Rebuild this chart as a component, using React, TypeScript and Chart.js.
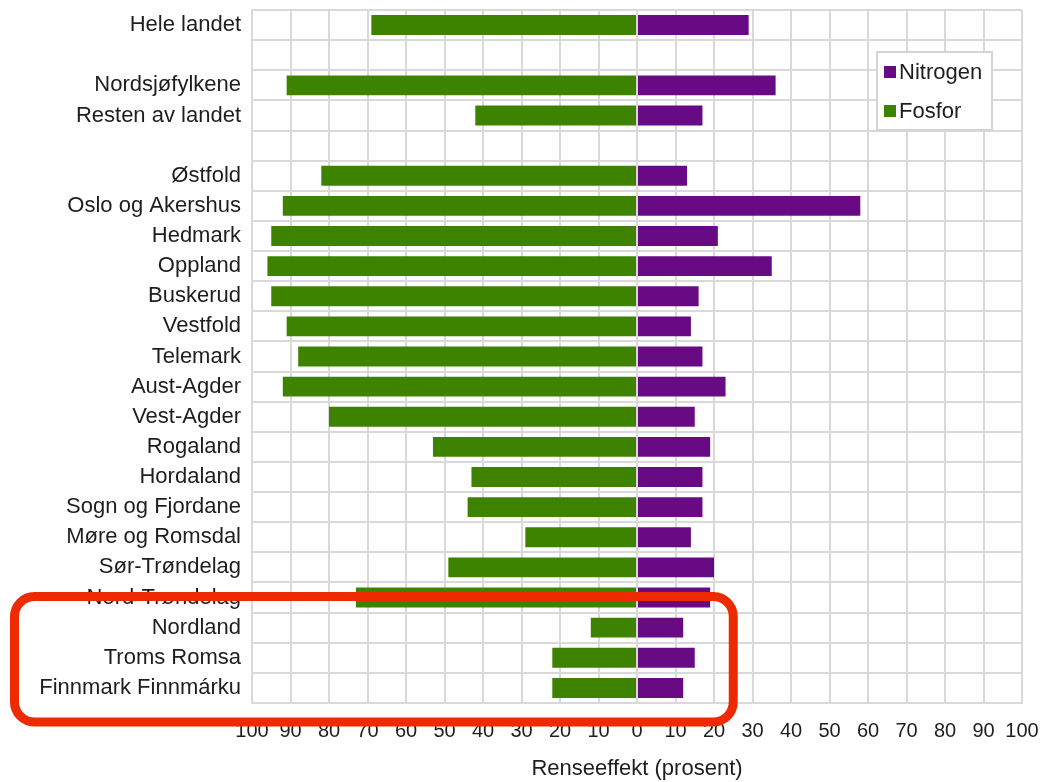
import React, { useEffect, useRef } from "react";
import { Chart, registerables } from "chart.js";

Chart.register(...registerables);

// Rows from top to bottom; empty strings are spacer rows.
const categories: string[] = [
  "Hele landet",
  "",
  "Nordsjøfylkene",
  "Resten av landet",
  "",
  "Østfold",
  "Oslo og Akershus",
  "Hedmark",
  "Oppland",
  "Buskerud",
  "Vestfold",
  "Telemark",
  "Aust-Agder",
  "Vest-Agder",
  "Rogaland",
  "Hordaland",
  "Sogn og Fjordane",
  "Møre og Romsdal",
  "Sør-Trøndelag",
  "Nord-Trøndelag",
  "Nordland",
  "Troms Romsa",
  "Finnmark Finnmárku",
];

// Nitrogen removal (%), drawn to the right of zero.
const nitrogen: (number | null)[] = [
  29, null, 36, 17, null, 13, 58, 21, 35, 16, 14, 17, 23, 15, 19, 17, 17, 14, 20, 19, 12, 15, 12,
];

// Phosphorus removal (%), drawn to the left of zero.
const fosfor: (number | null)[] = [
  69, null, 91, 42, null, 82, 92, 95, 96, 95, 91, 88, 92, 80, 53, 43, 44, 29, 49, 73, 12, 22, 22,
];

// Axis ticks from -100 to 100, labelled by magnitude.
const tickValues: number[] = [
  -100, -90, -80, -70, -60, -50, -40, -30, -20, -10, 0, 10, 20, 30, 40, 50, 60, 70, 80, 90, 100,
];

const seriesNames = ["Nitrogen", "Fosfor"];
const seriesColors = ["#680a84", "#3e8300"];
const axisTitle = "Renseeffekt (prosent)";

const FONT = "'Liberation Sans', Arial, sans-serif";
const TEXT = "#1e1e1e";
const GRID = "#d9d9d9";

// Legend box sitting inside the plot area, near the top right.
const insideLegend = {
  id: "insideLegend",
  afterDraw(chart: any) {
    const { ctx, chartArea } = chart;
    const w = 115;
    const h = 78;
    const x = chartArea.right - 30 - w;
    const y = chartArea.top + 42;
    ctx.save();
    ctx.fillStyle = "#ffffff";
    ctx.fillRect(x, y, w, h);
    ctx.strokeStyle = "#d4d4d4";
    ctx.lineWidth = 2;
    ctx.strokeRect(x, y, w, h);
    ctx.font = `22px ${FONT}`;
    ctx.textBaseline = "middle";
    ctx.textAlign = "left";
    chart.data.datasets.forEach((ds: any, i: number) => {
      const cy = y + 20 + i * 39;
      ctx.fillStyle = ds.backgroundColor;
      ctx.fillRect(x + 7, cy - 6, 12, 12);
      ctx.fillStyle = TEXT;
      ctx.fillText(ds.label, x + 22, cy + 1);
    });
    ctx.restore();
  },
};

// Rounded red frame highlighting the northern counties.
const highlightFrame = {
  id: "highlightFrame",
  afterDraw(chart: any) {
    const { ctx, chartArea, scales } = chart;
    const yScale = scales.y;
    const xScale = scales.x;
    const top = yScale.getPixelForValue(categories.indexOf("Nord-Trøndelag")) - 1;
    const bottom = chartArea.bottom + 19;
    const left = 14.5;
    const right = xScale.getPixelForValue(25);
    ctx.save();
    ctx.strokeStyle = "#ee2a00";
    ctx.lineWidth = 9;
    ctx.beginPath();
    ctx.roundRect(left, top, right - left, bottom - top, 20);
    ctx.stroke();
    ctx.restore();
  },
};

export default function App() {
  const canvasRef = useRef<HTMLCanvasElement | null>(null);

  useEffect(() => {
    if (!canvasRef.current) return;
    const chart = new Chart(canvasRef.current, {
      type: "bar",
      data: {
        labels: categories,
        datasets: [
          {
            label: seriesNames[0],
            data: nitrogen,
            backgroundColor: seriesColors[0],
            categoryPercentage: 1,
            barPercentage: 0.66,
          },
          {
            label: seriesNames[1],
            data: fosfor.map((v) => (v === null ? null : -v)),
            backgroundColor: seriesColors[1],
            categoryPercentage: 1,
            barPercentage: 0.66,
          },
        ],
      },
      options: {
        indexAxis: "y",
        animation: false,
        responsive: true,
        maintainAspectRatio: false,
        layout: { padding: { top: 10, right: 34, left: 0, bottom: 0 } },
        plugins: {
          legend: { display: false },
          tooltip: { enabled: false },
        },
        scales: {
          x: {
            type: "linear",
            stacked: true,
            min: -100,
            max: 100,
            afterBuildTicks(scale: any) {
              scale.ticks = tickValues.map((v) => ({ value: v }));
            },
            afterFit(scale: any) {
              scale.height = 79;
            },
            grid: { color: GRID, lineWidth: 2, drawTicks: false },
            border: { display: true, color: GRID, width: 2 },
            ticks: {
              autoSkip: false,
              maxRotation: 0,
              padding: 16,
              color: TEXT,
              font: { family: FONT, size: 20 },
              callback: (v: any) => String(Math.abs(Number(v))),
            },
            title: {
              display: true,
              text: axisTitle,
              color: TEXT,
              font: { family: FONT, size: 22 },
              padding: { top: 3, bottom: 0 },
            },
          },
          y: {
            stacked: true,
            afterFit(scale: any) {
              scale.width = 252;
              scale.paddingTop = 0;
              scale.paddingBottom = 0;
            },
            grid: { color: GRID, lineWidth: 2, drawTicks: false },
            border: { display: true, color: GRID, width: 2 },
            ticks: {
              autoSkip: false,
              padding: 11,
              color: TEXT,
              font: { family: FONT, size: 22 },
            },
          },
        },
      },
      plugins: [insideLegend, highlightFrame],
    });
    return () => chart.destroy();
  }, []);

  return (
    <div style={{ position: "fixed", left: 0, top: 0, width: 1056, height: 782, background: "#fff" }}>
      <canvas ref={canvasRef} />
    </div>
  );
}
